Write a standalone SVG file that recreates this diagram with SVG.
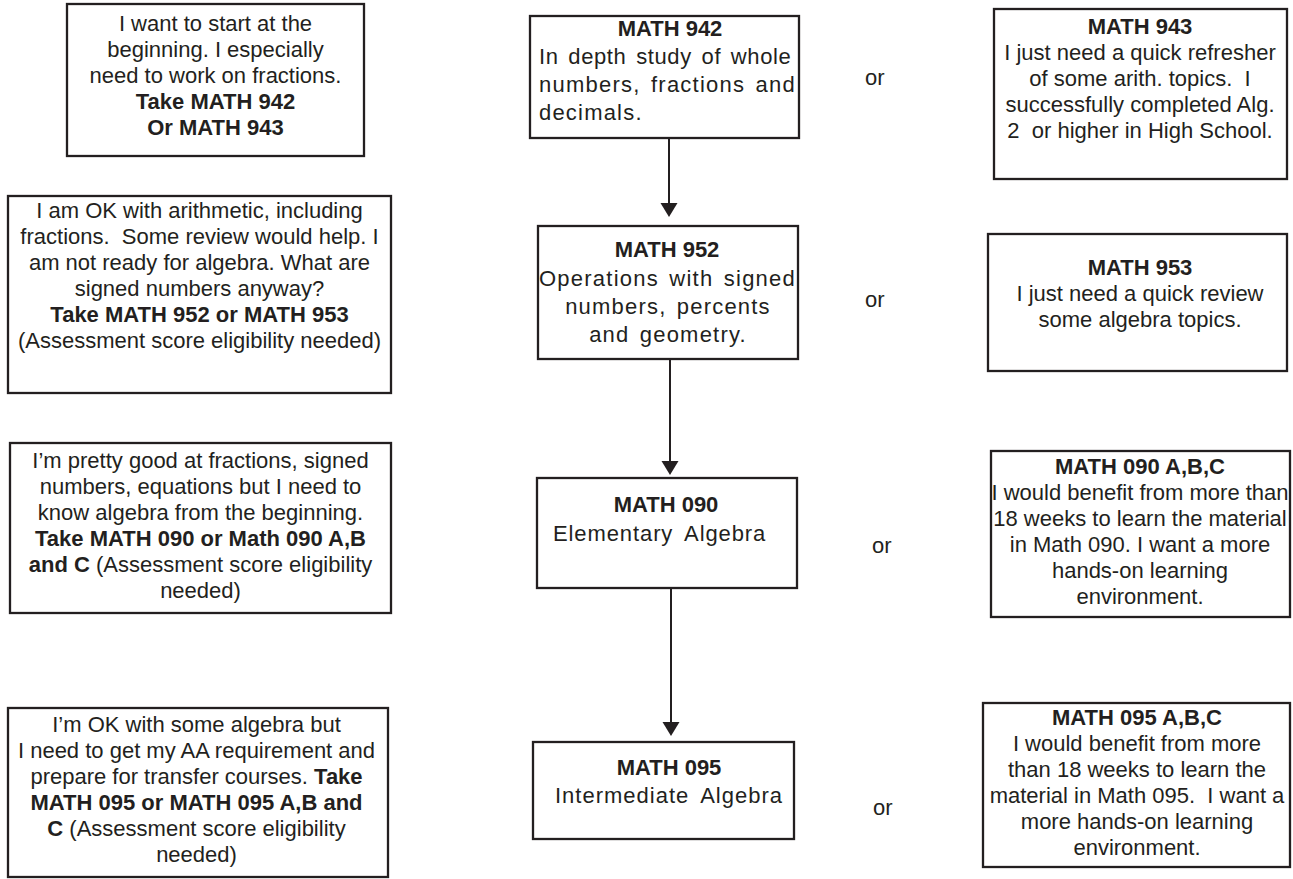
<svg xmlns="http://www.w3.org/2000/svg" width="1293" height="879" viewBox="0 0 1293 879">
<style>
.box{fill:#fff;stroke:#231f20;stroke-width:2.3}
text{font-family:"Liberation Sans",Arial,sans-serif;font-size:22px;fill:#231f20}
.c{text-anchor:middle}
.b{font-weight:bold}
.mid{font-size:22px;letter-spacing:1.2px;word-spacing:3px}
.conn{stroke:#231f20;stroke-width:2;fill:none}
.head{fill:#231f20}
</style>
<rect width="1293" height="879" fill="#fff"/>

<g id="connectors">
<line class="conn" x1="669" y1="138" x2="669" y2="204"/>
<path class="head" d="M660.5,203 L677.5,203 L669,217 Z"/>
<line class="conn" x1="670" y1="359" x2="670" y2="462"/>
<path class="head" d="M661.5,461 L678.5,461 L670,475 Z"/>
<line class="conn" x1="671" y1="588" x2="671" y2="723"/>
<path class="head" d="M662.5,722 L679.5,722 L671,736 Z"/>
</g>

<g id="left1">
<rect class="box" x="67" y="4" width="297" height="152"/>
<text class="c" x="215.5" y="31">I want to start at the</text>
<text class="c" x="215.5" y="57">beginning. I especially</text>
<text class="c" x="215.5" y="83">need to work on fractions.</text>
<text class="c b" x="215.5" y="109">Take MATH 942</text>
<text class="c b" x="215.5" y="135">Or MATH 943</text>
</g>

<g id="left2">
<rect class="box" x="8" y="196" width="383" height="197"/>
<text class="c" x="199.5" y="218">I am OK with arithmetic, including</text>
<text class="c" x="199.5" y="244" xml:space="preserve">fractions.  Some review would help. I</text>
<text class="c" x="199.5" y="270">am not ready for algebra. What are</text>
<text class="c" x="199.5" y="296">signed numbers anyway?</text>
<text class="c b" x="199.5" y="322">Take MATH 952 or MATH 953</text>
<text class="c" x="199.5" y="348">(Assessment score eligibility needed)</text>
</g>

<g id="left3">
<rect class="box" x="10" y="443" width="381" height="170"/>
<text class="c" x="200.5" y="468">I’m pretty good at fractions, signed</text>
<text class="c" x="200.5" y="494">numbers, equations but I need to</text>
<text class="c" x="200.5" y="520">know algebra from the beginning.</text>
<text class="c b" x="200.5" y="546">Take MATH 090 or Math 090 A,B</text>
<text class="c" x="200.5" y="572"><tspan class="b">and C</tspan> (Assessment score eligibility</text>
<text class="c" x="200.5" y="598">needed)</text>
</g>

<g id="left4">
<rect class="box" x="8" y="708" width="380" height="169"/>
<text class="c" x="196.5" y="732">I’m OK with some algebra but</text>
<text class="c" x="196.5" y="758">I need to get my AA requirement and</text>
<text class="c" x="196.5" y="784">prepare for transfer courses. <tspan class="b">Take</tspan></text>
<text class="c b" x="196.5" y="810">MATH 095 or MATH 095 A,B and</text>
<text class="c" x="196.5" y="836"><tspan class="b">C</tspan> (Assessment score eligibility</text>
<text class="c" x="196.5" y="862">needed)</text>
</g>

<g id="math942">
<rect class="box" x="530" y="16" width="269" height="122"/>
<text class="c b" x="670" y="36">MATH 942</text>
<text class="mid" x="539" y="64" textLength="253" lengthAdjust="spacing">In depth study of whole</text>
<text class="mid" x="539" y="92" textLength="257" lengthAdjust="spacing">numbers, fractions and</text>
<text class="mid" x="539" y="120">decimals.</text>
</g>

<g id="math952">
<rect class="box" x="538" y="226" width="260" height="133"/>
<text class="c b" x="667" y="257">MATH 952</text>
<text class="mid" x="539" y="286" textLength="257" lengthAdjust="spacing">Operations with signed</text>
<text class="mid c" x="668" y="314">numbers, percents</text>
<text class="mid c" x="668" y="342">and geometry.</text>
</g>

<g id="math090">
<rect class="box" x="537" y="478" width="260" height="110"/>
<text class="c b" x="666" y="512">MATH 090</text>
<text class="mid" x="553" y="541" style="letter-spacing:0.9px;word-spacing:5px">Elementary Algebra</text>
</g>

<g id="math095">
<rect class="box" x="533" y="742" width="261" height="97"/>
<text class="c b" x="669" y="775">MATH 095</text>
<text class="mid" x="555" y="803" style="letter-spacing:1px;word-spacing:5px">Intermediate Algebra</text>
</g>

<g id="or-labels">
<text x="865" y="85">or</text>
<text x="865" y="307">or</text>
<text x="872" y="553">or</text>
<text x="873" y="815">or</text>
</g>

<g id="math943">
<rect class="box" x="994" y="9" width="293" height="170"/>
<text class="c b" x="1140" y="34">MATH 943</text>
<text class="c" x="1140" y="60">I just need a quick refresher</text>
<text class="c" x="1140" y="86" xml:space="preserve">of some arith. topics.  I</text>
<text class="c" x="1140" y="112">successfully completed Alg.</text>
<text class="c" x="1140" y="138" xml:space="preserve">2  or higher in High School.</text>
</g>

<g id="math953">
<rect class="box" x="988" y="234" width="299" height="137"/>
<text class="c b" x="1140" y="275">MATH 953</text>
<text class="c" x="1140" y="301">I just need a quick review</text>
<text class="c" x="1140" y="327">some algebra topics.</text>
</g>

<g id="math090abc">
<rect class="box" x="991" y="451" width="299" height="166"/>
<text class="c b" x="1140" y="474">MATH 090 A,B,C</text>
<text class="c" x="1140" y="500">I would benefit from more than</text>
<text class="c" x="1140" y="526">18 weeks to learn the material</text>
<text class="c" x="1140" y="552">in Math 090. I want a more</text>
<text class="c" x="1140" y="578">hands-on learning</text>
<text class="c" x="1140" y="604">environment.</text>
</g>

<g id="math095abc">
<rect class="box" x="983" y="703" width="307" height="164"/>
<text class="c b" x="1137" y="725">MATH 095 A,B,C</text>
<text class="c" x="1137" y="751">I would benefit from more</text>
<text class="c" x="1137" y="777">than 18 weeks to learn the</text>
<text class="c" x="1137" y="803" xml:space="preserve">material in Math 095.  I want a</text>
<text class="c" x="1137" y="829">more hands-on learning</text>
<text class="c" x="1137" y="855">environment.</text>
</g>
</svg>
